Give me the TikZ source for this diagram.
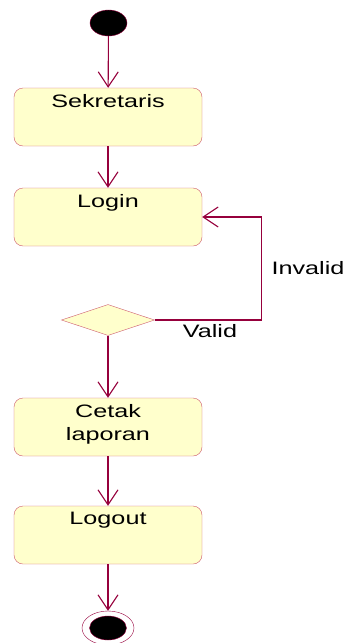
\documentclass[tikz,border=0pt]{standalone}
\usepackage{fontspec}
\setmainfont{Liberation Sans}[FakeStretch=1.4]
\definecolor{umlred}{RGB}{150,0,60}
\definecolor{umlfill}{RGB}{255,255,204}
\definecolor{umlborder}{RGB}{205,90,110}
\usetikzlibrary{arrows.meta,positioning,shapes.geometric,calc}

\begin{document}
\begin{tikzpicture}[x=1pt,y=-1pt,
  actbox/.style={draw=umlborder,fill=umlfill,rounded corners=9pt,minimum width=188pt,minimum height=58pt,inner sep=0pt},
  boxtext/.style={anchor=north,inner sep=6.5pt,align=center,font=\fontsize{18}{23}\selectfont},
  flow/.style={-{Straight Barb[length=15pt,width=20pt]},umlred,line width=1.1pt},
  guard/.style={font=\fontsize{18}{22}\selectfont}]
  \useasboundingbox (0,0) rectangle (346,643);
  % Start
  \node[ellipse,draw=umlred,fill=black,minimum width=37pt,minimum height=26pt,inner sep=0pt] (start) at (108.5,23) {};
  % Actions
  \node[actbox,label={[boxtext]north:Sekretaris}] (sek) at (108,117) {};
  \node[actbox,label={[boxtext]north:Login}] (login) at (108,217) {};
  \node[diamond,draw=umlborder,fill=umlfill,minimum width=93pt,minimum height=31pt,inner sep=0pt] (dec) at (108,320) {};
  \node[actbox,label={[boxtext]north:Cetak\\laporan}] (cetak) at (108,427) {};
  \node[actbox,label={[boxtext]north:Logout}] (logout) at (108,535) {};
  % End
  \node[ellipse,draw=umlred,minimum width=52pt,minimum height=34pt,inner sep=0pt] (stop) at (108,628) {};
  \node[ellipse,draw=umlred,fill=black,minimum width=37pt,minimum height=24pt,inner sep=0pt] (stopin) at (108,628) {};
  % Flow
  \draw[flow] (start) -- (sek);
  \draw[flow] (sek) -- (login);
  \draw[flow] (dec) -- (cetak);
  \draw[flow] (cetak) -- (logout);
  \draw[flow] (logout) -- (stop);
  % Guards
  \draw[flow] (dec.east) -- ++(107,0) |- (login.east);
  \node[guard] (inv) at (308,268) {Invalid};
  \node[guard] (val) at (210,331) {Valid};
\end{tikzpicture}
\end{document}
